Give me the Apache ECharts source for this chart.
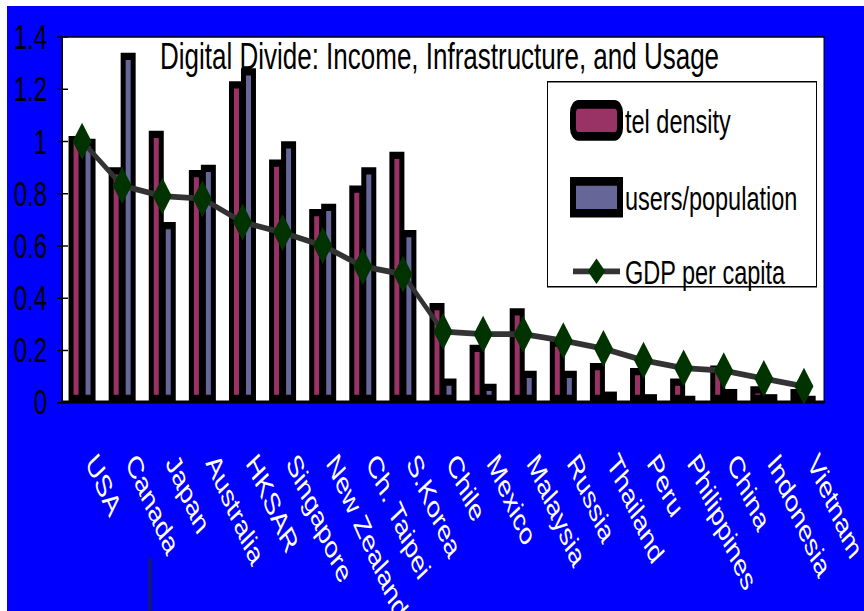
<!DOCTYPE html>
<html>
<head>
<meta charset="utf-8">
<script src="https://cdn.jsdelivr.net/npm/echarts@6/dist/echarts.min.js"></script>
<style>
  html, body { margin: 0; padding: 0; background: #fff; width: 864px; height: 611px; overflow: hidden; }
  /* the slide is stretched vertically, so draw at 864x421 and stretch it */
  #main { width: 864px; height: 421px; transform: scaleY(1.4513); transform-origin: 0 0; }
</style>
</head>
<body>
<div id="main"></div>
<script>
// values
var countries = ['USA', 'Canada', 'Japan', 'Australia', 'HKSAR', 'Singapore', 'New Zealand', 'Ch. Taipei', 'S.Korea',
  'Chile', 'Mexico', 'Malaysia', 'Russia', 'Thailand', 'Peru', 'Philippines', 'China', 'Indonesia', 'Vietnam'];
var telDensity = [1.02, 0.90, 1.04, 0.89, 1.23, 0.93, 0.74, 0.83, 0.96, 0.38, 0.22, 0.36, 0.24, 0.15, 0.13, 0.09, 0.14, 0.06, 0.05];
var usersPerPop = [1.01, 1.34, 0.69, 0.91, 1.28, 1.0, 0.76, 0.90, 0.66, 0.09, 0.07, 0.12, 0.12, 0.04, 0.03, 0.02, 0.05, 0.03, 0.02];
var gdpPerCapita = [1.0, 0.83, 0.79, 0.78, 0.69, 0.65, 0.60, 0.52, 0.49, 0.27, 0.26, 0.26, 0.235, 0.205, 0.16, 0.13, 0.12, 0.09, 0.06];

var S = 611 / 421;             // vertical stretch
function py(v) { return v / S; } // screen y -> chart y
var font = '"Liberation Sans", Arial, sans-serif';

var chart = echarts.init(document.getElementById('main'), null, { renderer: 'svg' });

var option = {
  animation: false,
  backgroundColor: '#0000ff',
  title: {
    text: 'Digital Divide: Income, Infrastructure, and Usage',
    left: 160,
    top: py(37),
    padding: 0,
    textStyle: { fontFamily: font, fontSize: 26, fontWeight: 'normal', color: '#000' }
  },
  legend: {
    orient: 'vertical',
    left: 570,
    top: py(116) - 11,
    padding: 0,
    itemWidth: 47,
    itemHeight: 22,
    itemGap: 25,
    itemStyle: { borderWidth: 6, borderColor: '#000' },
    textStyle: { fontFamily: font, fontSize: 23.5, color: '#000' },
    data: [
      { name: 'tel density', icon: 'roundRect' },
      { name: 'users/population', icon: 'rect' },
      { name: 'GDP per capita', itemStyle: { borderWidth: 0 }, lineStyle: { width: 4 } }
    ]
  },
  grid: {
    left: 62, right: 40, top: py(37), bottom: 421 - py(402),
    outerBoundsMode: 'none',
    show: true, backgroundColor: '#fff', borderColor: '#000', borderWidth: 1
  },
  xAxis: [{
    type: 'category',
    data: countries,
    axisLine: { lineStyle: { color: '#000', width: 2 } },
    axisTick: { length: 9, lineStyle: { color: '#000', width: 1 } },
    axisLabel: {
      interval: 0, rotate: -57, margin: 44, verticalAlign: 'bottom',
      color: '#fff', fontFamily: font, fontSize: 22
    }
  }, {
    type: 'category',
    data: countries,
    position: 'bottom',
    axisLine: { show: false },
    axisTick: { inside: true, length: 8, lineStyle: { color: '#000', width: 1 } },
    axisLabel: { show: false }
  }],
  yAxis: [{
    type: 'value',
    min: 0, max: 1.4, interval: 0.2,
    splitLine: { show: false },
    axisLine: { show: true, lineStyle: { color: '#000', width: 1 } },
    axisTick: { show: true, length: 5, lineStyle: { color: '#000' } },
    axisLabel: { color: '#000', fontFamily: font, fontSize: 24, margin: 15 }
  }, {
    type: 'value',
    position: 'left',
    min: 0, max: 1.4, interval: 0.2,
    splitLine: { show: false },
    axisLine: { show: false },
    axisTick: { show: true, inside: true, length: 6, lineStyle: { color: '#000' } },
    axisLabel: { show: false }
  }],
  series: [
    {
      name: 'tel density',
      type: 'bar',
      data: telDensity,
      barWidth: 15,
      barGap: '-20%',
      itemStyle: { color: '#993366', borderColor: '#000', borderWidth: 5 }
    },
    {
      name: 'users/population',
      type: 'bar',
      data: usersPerPop,
      barWidth: 15,
      itemStyle: { color: '#666699', borderColor: '#000', borderWidth: 5 }
    },
    {
      name: 'GDP per capita',
      type: 'line',
      data: gdpPerCapita,
      symbol: 'diamond',
      symbolSize: [19, 25.5],
      lineStyle: { color: '#333333', width: 4 },
      itemStyle: { color: '#003300' },
      z: 5
    }
  ],
  graphic: [
    { type: 'rect', left: 0, top: 0, shape: { width: 864, height: py(6) }, style: { fill: '#fff' }, z: 100 },
    { type: 'rect', left: 0, top: 0, shape: { width: 7, height: 421 }, style: { fill: '#fff' }, z: 100 },
    { type: 'rect', left: 547, top: py(81), shape: { width: 269, height: py(205) }, style: { fill: '#fff', stroke: '#000', lineWidth: 1 }, z: 1 },
    { type: 'line', shape: { x1: 150, y1: py(558), x2: 150, y2: 421 }, style: { stroke: '#1a1a55', lineWidth: 3 }, z: 1 }
  ]
};

chart.setOption(option);
</script>
</body>
</html>
